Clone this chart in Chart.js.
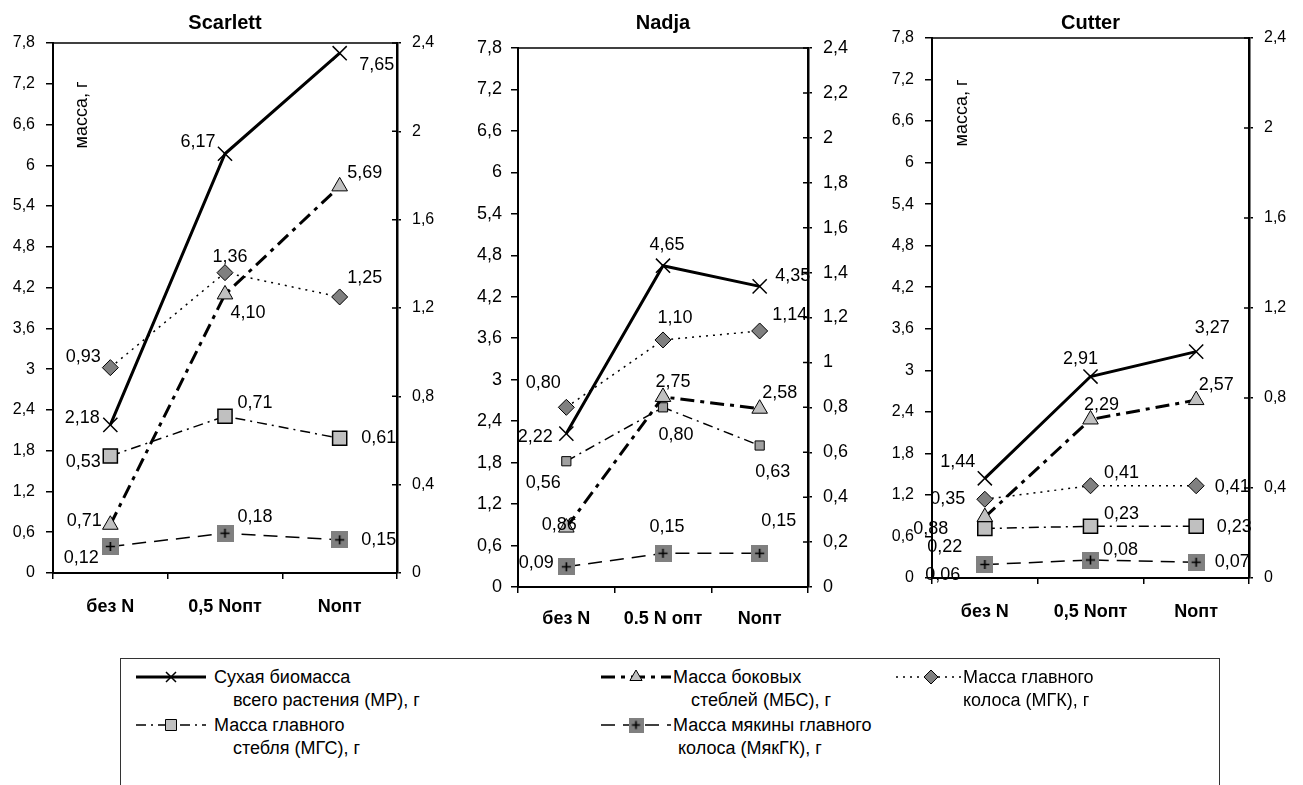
<!DOCTYPE html>
<html>
<head>
<meta charset="utf-8">
<script src="https://cdn.jsdelivr.net/npm/chart.js@4/dist/chart.umd.min.js"></script>
<style>
  body { margin: 0; background: #fff; }
  #wrap { position: relative; width: 1303px; height: 785px; overflow: hidden; font-family: Arial, "Liberation Sans", sans-serif; }
  canvas.panel { position: absolute; top: 0; }
  #legend { position: absolute; left: 120px; top: 658px; width: 1098px; height: 160px; border: 1px solid #333; }
  .sym { position: absolute; }
  .txt { position: absolute; white-space: pre; font-size: 18px; line-height: 23px; color: #000; }
</style>
</head>
<body>
<div id="wrap">
  <canvas id="scarlett" class="panel" style="left:0px" width="445" height="630"></canvas>
  <canvas id="nadja" class="panel" style="left:430px" width="430" height="630"></canvas>
  <canvas id="cutter" class="panel" style="left:860px" width="443" height="630"></canvas>
  <div id="legend"></div>
</div>
<script>
// categories
const catsScarlett = ["без N", "0,5 Nопт", "Nопт"];
const catsNadja = ["без N", "0.5 N опт", "Nопт"];
const catsCutter = ["без N", "0,5 Nопт", "Nопт"];

// tick values
const leftTicks = [0, 0.6, 1.2, 1.8, 2.4, 3, 3.6, 4.2, 4.8, 5.4, 6, 6.6, 7.2, 7.8];
const rightTicksWide = [0, 0.4, 0.8, 1.2, 1.6, 2, 2.4];
const rightTicksFine = [0, 0.2, 0.4, 0.6, 0.8, 1, 1.2, 1.4, 1.6, 1.8, 2, 2.2, 2.4];

// Scarlett
const scarlettMP = [2.18, 6.17, 7.65];
const scarlettMBS = [0.71, 4.10, 5.69];
const scarlettMGK = [0.93, 1.36, 1.25];
const scarlettMGS = [0.53, 0.71, 0.61];
const scarlettMyakGK = [0.12, 0.18, 0.15];

// Nadja
const nadjaMP = [2.22, 4.65, 4.35];
const nadjaMBS = [0.86, 2.75, 2.58];
const nadjaMGK = [0.80, 1.10, 1.14];
const nadjaMGS = [0.56, 0.80, 0.63];
const nadjaMyakGK = [0.09, 0.15, 0.15];

// Cutter
const cutterMP = [1.44, 2.91, 3.27];
const cutterMBS = [0.88, 2.29, 2.57];
const cutterMGK = [0.35, 0.41, 0.41];
const cutterMGS = [0.22, 0.23, 0.23];
const cutterMyakGK = [0.06, 0.08, 0.07];

const seriesNames = [
  ["Сухая биомасса", "всего растения (МР), г"],
  ["Масса боковых", "стеблей (МБС), г"],
  ["Масса главного", "колоса (МГК), г"],
  ["Масса главного", "стебля (МГС), г"],
  ["Масса мякины главного", " колоса (МякГК), г"],
];

const FONT = 'Arial, "Liberation Sans", sans-serif';

function plusSquare(size) {
  const c = document.createElement("canvas");
  c.width = size; c.height = size;
  const g = c.getContext("2d");
  g.fillStyle = "#808080";
  g.fillRect(0, 0, size, size);
  g.strokeStyle = "#000";
  g.lineWidth = 1.6;
  const m = size / 2, h = size * 0.27;
  g.beginPath();
  g.moveTo(m - h, m); g.lineTo(m + h, m);
  g.moveTo(m, m - h); g.lineTo(m, m + h);
  g.stroke();
  return c;
}

const seriesStyle = [
  { borderWidth: 3, borderDash: [], pointStyle: "crossRot", pointRadius: 10, pointBorderWidth: 1.5, pointBackgroundColor: "#000", yAxisID: "y" },
  { borderWidth: 3, borderDash: [14, 6, 4, 6], pointStyle: "triangle", pointRadius: 9, pointBorderWidth: 1, pointBackgroundColor: "#c0c0c0", yAxisID: "y" },
  { borderWidth: 1.5, borderDash: [2, 5], pointStyle: "rectRot", pointRadius: 8, pointBorderWidth: 1, pointBackgroundColor: "#808080", yAxisID: "y2" },
  { borderWidth: 1.5, borderDash: [10, 5, 2, 5], pointStyle: "rect", pointRadius: 10, pointBorderWidth: 1.5, pointBackgroundColor: "#c0c0c0", yAxisID: "y2" },
  { borderWidth: 1.5, borderDash: [14, 8], pointStyle: plusSquare(17), pointRadius: 9, pointBorderWidth: 0, pointBackgroundColor: "#808080", yAxisID: "y2" },
];

const fmt = v => String(+Number(v).toFixed(2)).replace(".", ",");

const valueLabels = {
  id: "valueLabels",
  afterDatasetsDraw(chart, args, opts) {
    const ctx = chart.ctx;
    ctx.save();
    ctx.font = "18px " + FONT;
    ctx.fillStyle = "#000";
    ctx.textAlign = "center";
    ctx.textBaseline = "middle";
    chart.data.datasets.forEach((ds, i) => {
      chart.getDatasetMeta(i).data.forEach((pt, j) => {
        const o = opts.offsets[i][j];
        ctx.fillText(ds.data[j].toFixed(2).replace(".", ","), pt.x + o[0], pt.y + o[1]);
      });
    });
    ctx.restore();
  }
};

const decor = {
  id: "decor",
  afterDraw(chart, args, opts) {
    const ctx = chart.ctx, a = chart.chartArea;
    ctx.save();
    ctx.strokeStyle = "#000";
    ctx.lineWidth = 1.5;
    ctx.beginPath();
    ctx.moveTo(a.left, a.top); ctx.lineTo(a.right, a.top);
    ctx.stroke();
    const y2 = chart.scales.y2;
    ctx.beginPath();
    y2.ticks.forEach((t, i) => {
      const y = y2.getPixelForTick(i);
      ctx.moveTo(a.right - 5, y); ctx.lineTo(a.right, y);
    });
    ctx.stroke();
    ctx.fillStyle = "#000";
    ctx.textAlign = "center";
    ctx.textBaseline = "middle";
    ctx.font = "bold 20px " + FONT;
    ctx.fillText(opts.title, (a.left + a.right) / 2, 23);
    if (opts.axisTitle) {
      ctx.translate(a.left + opts.axisTitle[0], a.top + opts.axisTitle[1]);
      ctx.rotate(-Math.PI / 2);
      ctx.font = "18px " + FONT;
      ctx.fillText("масса, г", 0, 0);
    }
    ctx.restore();
  }
};

function makePanel(id, p) {
  const canvas = document.getElementById(id);
  const W = canvas.width, H = canvas.height;
  const data = [p.mp, p.mbs, p.mgk, p.mgs, p.myak];
  const datasets = data.map((d, i) => Object.assign({
    label: seriesNames[i].join(" "),
    data: d,
    borderColor: "#000",
    pointBorderColor: "#000",
    tension: 0,
    fill: false,
  }, seriesStyle[i], (p.override && p.override[i]) || {}));

  return new Chart(canvas, {
    type: "line",
    data: { labels: p.labels, datasets },
    options: {
      responsive: false,
      animation: false,
      layout: { padding: { top: p.area.top, left: 0, right: 0, bottom: 0 } },
      plugins: {
        legend: { display: false },
        tooltip: { enabled: false },
        valueLabels: { offsets: p.offsets },
        decor: { title: p.title, axisTitle: p.axisTitle },
      },
      scales: {
        x: {
          type: "category",
          offset: true,
          afterFit: s => { s.height = H - p.area.bottom; },
          grid: { offset: true, drawOnChartArea: false, drawTicks: true, tickLength: 6, color: "#000", lineWidth: 1.5 },
          border: { color: "#000", width: 2 },
          ticks: { color: "#000", font: { family: FONT, size: 18, weight: "bold" }, padding: p.xPad, maxRotation: 0 },
        },
        y: {
          position: "left",
          min: 0, max: 7.8,
          afterBuildTicks: s => { s.ticks = leftTicks.map(v => ({ value: v })); },
          afterFit: s => { s.width = p.area.left; },
          grid: { drawOnChartArea: false, tickLength: 7, color: "#000", lineWidth: 1.5 },
          border: { color: "#000", width: 2 },
          ticks: { color: "#000", font: { family: FONT, size: p.tickSize }, padding: p.tickPad, callback: v => fmt(v) },
        },
        y2: {
          position: "right",
          min: 0, max: 2.4,
          afterBuildTicks: s => { s.ticks = p.rightTicks.map(v => ({ value: v })); },
          afterFit: s => { s.width = W - p.area.right; },
          grid: { drawOnChartArea: false, tickLength: 4, color: "#000", lineWidth: 1.5 },
          border: { color: "#000", width: 2.5 },
          ticks: { color: "#000", font: { family: FONT, size: p.tickSize }, padding: 11, callback: v => fmt(v) },
        },
      },
    },
    plugins: [valueLabels, decor],
  });
}

makePanel("scarlett", {
  title: "Scarlett",
  labels: catsScarlett,
  mp: scarlettMP, mbs: scarlettMBS, mgk: scarlettMGK, mgs: scarlettMGS, myak: scarlettMyakGK,
  area: { left: 53, right: 397, top: 43, bottom: 573 },
  rightTicks: rightTicksWide,
  tickSize: 16, tickPad: 11, xPad: 17,
  axisTitle: [29, 72],
  offsets: [
    [[-28, -7], [-27, -12], [37, 12]],
    [[-26, -4], [23, 19], [25, -13]],
    [[-27, -11], [5, -16], [25, -19]],
    [[-27, 6], [30, -13], [39, 0]],
    [[-29, 12], [30, -16], [39, 0]],
  ],
});

makePanel("nadja", {
  title: "Nadja",
  labels: catsNadja,
  mp: nadjaMP, mbs: nadjaMBS, mgk: nadjaMGK, mgs: nadjaMGS, myak: nadjaMyakGK,
  area: { left: 88, right: 378, top: 48, bottom: 587 },
  rightTicks: rightTicksFine,
  tickSize: 18, tickPad: 9, xPad: 15,
  axisTitle: null,
  override: { 3: { pointRadius: 6.5, pointBorderWidth: 1, pointBackgroundColor: "#a0a0a0" } },
  offsets: [
    [[-31, 3], [4, -21], [33, -10]],
    [[-7, -3], [10, -15], [20, -16]],
    [[-23, -24], [12, -22], [30, -16]],
    [[-23, 22], [13, 28], [13, 27]],
    [[-30, -4], [4, -26], [19, -32]],
  ],
});

makePanel("cutter", {
  title: "Cutter",
  labels: catsCutter,
  mp: cutterMP, mbs: cutterMBS, mgk: cutterMGK, mgs: cutterMGS, myak: cutterMyakGK,
  area: { left: 72, right: 389, top: 38, bottom: 578 },
  rightTicks: rightTicksWide,
  tickSize: 16, tickPad: 11, xPad: 17,
  axisTitle: [30, 75],
  offsets: [
    [[-27, -16], [-10, -18], [16, -24]],
    [[-54, 12], [11, -14], [20, -15]],
    [[-37, 0], [31, -13], [36, 1]],
    [[-40, 19], [31, -12], [38, 1]],
    [[-42, 11], [30, -10], [36, 0]],
  ],
});

// legend
function drawSymbol(c, i) {
  const g = c.getContext("2d");
  const st = seriesStyle[i];
  const w = c.width, y = c.height / 2, m = w / 2;
  g.strokeStyle = "#000";
  g.lineWidth = st.borderWidth;
  g.setLineDash(st.borderDash);
  g.beginPath(); g.moveTo(0, y); g.lineTo(w, y); g.stroke();
  g.setLineDash([]);
  g.lineWidth = 1;
  g.fillStyle = st.pointBackgroundColor;
  const r = 7;
  g.beginPath();
  if (i === 0) {
    g.lineWidth = 1.5;
    g.moveTo(m - 5, y - 5); g.lineTo(m + 5, y + 5);
    g.moveTo(m - 5, y + 5); g.lineTo(m + 5, y - 5);
    g.stroke();
  } else if (i === 1) {
    g.moveTo(m, y - r); g.lineTo(m + r * 0.87, y + r * 0.5); g.lineTo(m - r * 0.87, y + r * 0.5); g.closePath();
    g.fill(); g.stroke();
  } else if (i === 2) {
    g.moveTo(m, y - r); g.lineTo(m + r, y); g.lineTo(m, y + r); g.lineTo(m - r, y); g.closePath();
    g.fill(); g.stroke();
  } else if (i === 3) {
    g.rect(m - 5.5, y - 5.5, 11, 11);
    g.fill(); g.stroke();
  } else {
    g.drawImage(plusSquare(15), m - 7.5, y - 7.5);
  }
}

const legendSlots = [
  { x: 15, y: 8, tx: 93, indent: 19 },
  { x: 480, y: 8, tx: 552, indent: 18 },
  { x: 775, y: 8, tx: 842, indent: 0 },
  { x: 15, y: 56, tx: 93, indent: 19 },
  { x: 480, y: 56, tx: 552, indent: 0 },
];

const legend = document.getElementById("legend");
legendSlots.forEach((s, i) => {
  const c = document.createElement("canvas");
  c.width = 70; c.height = 20;
  c.className = "sym";
  c.style.left = s.x + "px"; c.style.top = s.y + "px";
  legend.appendChild(c);
  drawSymbol(c, i);
  seriesNames[i].forEach((line, k) => {
    const t = document.createElement("div");
    t.className = "txt";
    t.textContent = line;
    t.style.left = (s.tx + (k ? s.indent : 0)) + "px";
    t.style.top = (s.y - 1 + k * 23) + "px";
    legend.appendChild(t);
  });
});
</script>
</body>
</html>
